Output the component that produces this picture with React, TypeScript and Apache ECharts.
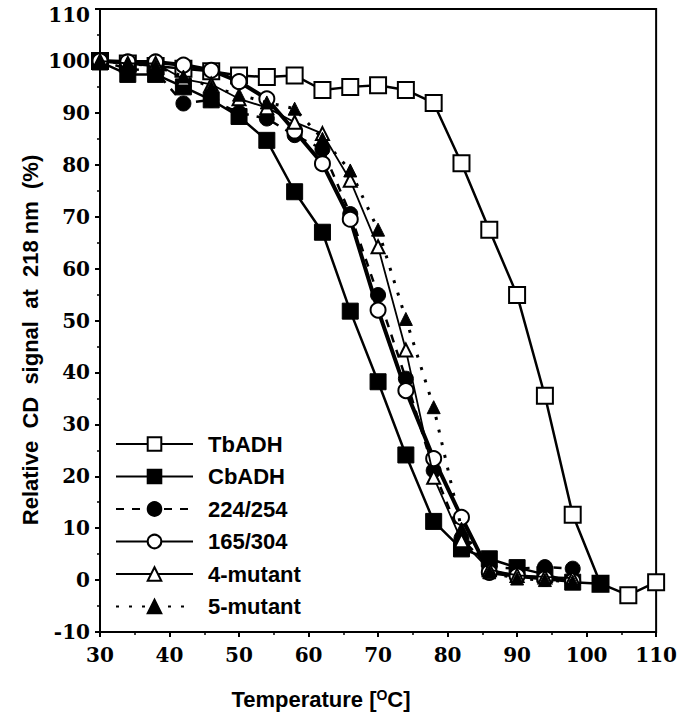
import React, { useEffect, useRef } from "react";
import * as echarts from "echarts";

const tempsLong = [30, 34, 38, 42, 46, 50, 54, 58, 62, 66, 70, 74, 78, 82, 86, 90, 94, 98, 102, 106, 110];
const tempsCb = [30, 34, 38, 42, 46, 50, 54, 58, 62, 66, 70, 74, 78, 82, 86, 90, 94, 98, 102];
const tempsShort = [30, 34, 38, 42, 46, 50, 54, 58, 62, 66, 70, 74, 78, 82, 86, 90, 94, 98];

const tbADH = [100, 99.5, 99, 98.5, 98, 97.2, 96.9, 97.2, 94.4, 95, 95.3, 94.4, 91.9, 80.3, 67.5, 54.9, 35.5, 12.6, -0.7, -2.9, -0.4];
const cbADH = [99.8, 97.4, 97.4, 95, 92.5, 89.3, 84.7, 74.8, 67, 51.8, 38.2, 24.1, 11.3, 6, 4.1, 2.4, 1.1, -0.4, -0.7];
const m224 = [100, 98.5, 98, 91.8, 92.5, 90, 88.9, 85.7, 83, 70.5, 54.9, 38.8, 21.1, 8, 2.5, 2.2, 2.5, 2.2];
const m165 = [100, 99.8, 99.8, 99.2, 98.2, 96, 92.7, 86.5, 80.2, 69.5, 52, 36.5, 23.4, 12.1, 1.5, 0.8, 0.3, -0.2];
const mut4 = [100, 99.5, 99.5, 96.5, 95.5, 92.7, 91, 88.2, 86, 77, 64.2, 44.3, 19.8, 7.6, 2, 0.9, 0.6, 0.4];
const mut5 = [100, 99.5, 99, 97, 95, 93.5, 92, 90.8, 85, 78.9, 67.5, 50.3, 33.3, 9.9, 1.5, 0.3, 0, -0.3];

const names = ["TbADH", "CbADH", "224/254", "165/304", "4-mutant", "5-mutant"];

const pairs = (t: number[], v: number[]) => t.map((x, i) => [x, v[i]]);

export default function App() {
  const ref = useRef<HTMLDivElement>(null);
  useEffect(() => {
    if (!ref.current) return;
    const chart = echarts.init(ref.current, undefined, { renderer: "svg" });
    const labelFont = {
      color: "#000",
      fontFamily: "DejaVu Serif",
      fontWeight: "bold",
      fontSize: 20,
    };
    const axisCommon = {
      type: "value",
      axisLine: { show: true, onZero: false, lineStyle: { color: "#000", width: 2 } },
      axisTick: { show: true, inside: false, length: 5, lineStyle: { color: "#000", width: 2 } },
      minorTick: { show: true, splitNumber: 2, length: 3, lineStyle: { color: "#000", width: 1.5 } },
      splitLine: { show: false },
      axisLabel: { ...labelFont },
    };
    const openStyle = { color: "#fff", borderColor: "#000", borderWidth: 2 };
    const fillStyle = { color: "#000", borderColor: "#000", borderWidth: 1 };
    const option: any = {
      animation: false,
      backgroundColor: "#fff",
      grid: { left: 100, right: 13, top: 9, bottom: 88, show: true, borderColor: "#000", borderWidth: 2, backgroundColor: "transparent" },
      xAxis: { ...axisCommon, min: 30, max: 110, interval: 10, axisLabel: { ...labelFont, margin: 13 } },
      yAxis: {
        ...axisCommon,
        min: -10,
        max: 110,
        interval: 10,
        axisLabel: {
          ...labelFont,
          margin: 10,
          formatter: (v: number) => (v === 110 ? "{top|110}" : String(v)),
          rich: {
            top: { ...labelFont, padding: [12, 0, 0, 0] },
          },
        },
      },
      legend: {
        orient: "vertical",
        left: 110,
        top: 428,
        itemWidth: 77,
        itemHeight: 17,
        itemGap: 10.5,
        data: names,
        textStyle: {
          color: "#000",
          fontFamily: "Liberation Sans",
          fontWeight: "bold",
          fontSize: 22,
          lineHeight: 22,
          padding: [0, 0, 0, 10],
        },
      },
      graphic: [
        {
          type: "text",
          x: 30,
          y: 340,
          rotation: Math.PI / 2,
          style: {
            text: "Relative  CD  signal  at  218 nm  (%)",
            fill: "#000",
            fontFamily: "Liberation Sans",
            fontWeight: "bold",
            fontSize: 22,
            align: "center",
            verticalAlign: "middle",
          },
        },
        {
          type: "text",
          x: 321,
          y: 699,
          style: {
            text: "Temperature [{sup|O}C]",
            fill: "#000",
            fontFamily: "Liberation Sans",
            fontWeight: "bold",
            fontSize: 22,
            align: "center",
            verticalAlign: "middle",
            rich: {
              sup: {
                fontFamily: "Liberation Sans",
                fontWeight: "bold",
                fontSize: 14,
                verticalAlign: "top",
                padding: [0, 0, 8, 0],
                fill: "#000",
              },
            },
          },
        },
      ],
      series: [
        {
          name: "TbADH",
          type: "line",
          data: pairs(tempsLong, tbADH),
          symbol: "rect",
          symbolSize: 16,
          itemStyle: openStyle,
          lineStyle: { color: "#000", width: 2.5 },
          z: 2,
        },
        {
          name: "CbADH",
          type: "line",
          data: pairs(tempsCb, cbADH),
          symbol: "rect",
          symbolSize: 16,
          itemStyle: fillStyle,
          lineStyle: { color: "#000", width: 2.5 },
          z: 3,
        },
        {
          name: "224/254",
          type: "line",
          data: pairs(tempsShort, m224),
          symbol: "circle",
          symbolSize: 15,
          itemStyle: fillStyle,
          lineStyle: { color: "#000", width: 2.5, type: [8, 8] },
          z: 4,
        },
        {
          name: "165/304",
          type: "line",
          data: pairs(tempsShort, m165),
          symbol: "circle",
          symbolSize: 15,
          itemStyle: openStyle,
          lineStyle: { color: "#000", width: 4 },
          z: 5,
        },
        {
          name: "4-mutant",
          type: "line",
          data: pairs(tempsShort, mut4),
          symbol: "triangle",
          symbolSize: 13,
          itemStyle: openStyle,
          lineStyle: { color: "#000", width: 1.8 },
          z: 6,
        },
        {
          name: "5-mutant",
          type: "line",
          data: pairs(tempsShort, mut5),
          symbol: "triangle",
          symbolSize: 13,
          itemStyle: fillStyle,
          lineStyle: { color: "#000", width: 3, type: [3, 10] },
          z: 7,
        },
      ],
    };
    chart.setOption(option);
    return () => chart.dispose();
  }, []);
  return <div ref={ref} style={{ width: 680, height: 720, position: "absolute", left: 0, top: 0 }} />;
}
